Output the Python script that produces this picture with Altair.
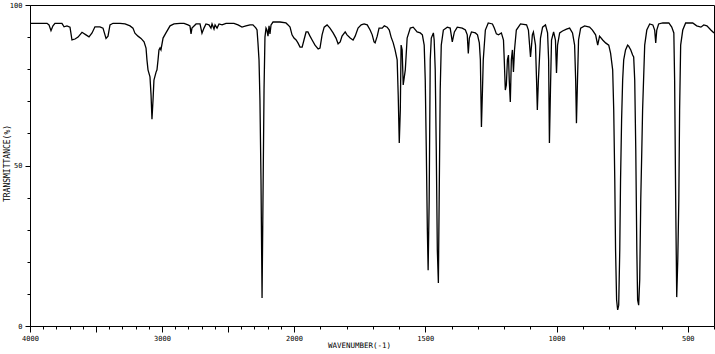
import altair as alt
import pandas as pd

wavenumber = [
    4000, 3871, 3856, 3841, 3826, 3811, 3758, 3742, 3720, 3697,
    3682, 3659, 3636, 3606, 3576, 3553, 3530, 3508, 3470, 3447,
    3424, 3409, 3394, 3371, 3318, 3280, 3242, 3220, 3205, 3182,
    3159, 3136, 3121, 3114, 3106, 3091, 3083, 3076, 3068, 3061,
    3045, 3038, 3030, 3023, 3015, 3008, 2992, 2970, 2939, 2909,
    2864, 2833, 2803, 2788, 2780, 2773, 2742, 2712, 2697, 2682,
    2667, 2644, 2629, 2621, 2606, 2598, 2583, 2568, 2545, 2515,
    2455, 2424, 2394, 2364, 2333, 2311, 2288, 2280, 2273, 2265,
    2258, 2250, 2242, 2235, 2227, 2220, 2212, 2205, 2197, 2189,
    2182, 2174, 2159, 2106, 2061, 2045, 2030, 2015, 2000,
    1992, 1985, 1977, 1969, 1962, 1954, 1947, 1939, 1931, 1920,
    1908, 1901, 1893, 1885, 1874, 1863, 1851, 1840, 1832, 1824,
    1817, 1805, 1798, 1786, 1775, 1767, 1756, 1744, 1733, 1721,
    1710, 1702, 1695, 1691, 1683, 1676, 1664, 1656, 1645, 1637,
    1630, 1622, 1615, 1607, 1603, 1599, 1595, 1592, 1588, 1584,
    1576, 1569, 1557, 1546, 1531, 1519, 1511, 1504, 1500, 1496,
    1492, 1489, 1485, 1481, 1477, 1469, 1466, 1462, 1458, 1454,
    1450, 1447, 1443, 1439, 1431, 1416, 1405, 1397, 1389, 1378,
    1359, 1347, 1340, 1336, 1332, 1324, 1309, 1301, 1294, 1290,
    1286, 1282, 1279, 1271, 1260, 1244, 1237, 1229, 1221, 1210,
    1202, 1199, 1195, 1191, 1187, 1183, 1180, 1176, 1172, 1168,
    1164, 1160, 1153, 1137, 1114, 1107, 1099, 1095, 1092, 1088,
    1080, 1076, 1073, 1069, 1061, 1053, 1042, 1034, 1030, 1027,
    1023, 1019, 1011, 1004, 1000, 996, 988, 977, 962, 950,
    939, 931, 927, 924, 920, 916, 908, 893, 874, 863,
    851, 843, 836, 824, 813, 801, 794, 786, 782, 778,
    775, 771, 767, 763, 759, 756, 752, 748, 744, 737,
    729, 725, 717, 710, 706, 702, 698, 694, 691, 687,
    683, 679, 675, 672, 664, 656, 645, 633, 626, 622,
    618, 611, 595, 572, 561, 553, 550, 546, 542, 538,
    534, 531, 527, 519, 508, 481, 466, 450, 439, 427,
    412, 400,
]

transmittance = [
    94.3, 94.3, 93.8, 92.0, 93.5, 94.3, 94.3, 93.2, 93.5, 93.1,
    89.1, 89.4, 90.0, 91.5, 90.7, 90.1, 91.3, 93.2, 93.2, 92.8,
    89.6, 90.3, 93.8, 94.3, 94.3, 94.1, 93.5, 92.8, 91.2, 90.3,
    89.6, 88.5, 86.6, 82.9, 79.8, 77.6, 72.0, 64.4, 70.4, 76.6,
    79.1, 79.8, 82.9, 86.0, 86.6, 86.0, 89.7, 91.3, 93.5, 94.1,
    94.3, 94.3, 93.8, 93.5, 91.0, 92.8, 94.1, 94.1, 91.2, 92.8,
    94.1, 93.8, 92.8, 94.1, 92.5, 93.8, 92.8, 94.1, 93.8, 94.3,
    94.3, 93.8, 93.1, 93.5, 93.8, 93.8, 92.8, 92.2, 88.2, 82.9,
    70.4, 45.5, 8.7, 39.3, 73.5, 90.0, 92.8, 92.2, 90.3, 93.5,
    91.0, 93.8, 94.7, 94.7, 94.4, 93.8, 93.1, 90.7, 89.7,
    89.1, 88.2, 86.9, 86.9, 89.1, 91.6, 91.6, 90.3, 89.1, 87.5,
    86.3, 86.6, 90.7, 93.1, 93.8, 92.8, 91.3, 89.7, 87.9, 88.5,
    90.3, 91.6, 90.7, 89.7, 89.1, 90.3, 92.8, 93.8, 94.1, 93.8,
    92.2, 90.7, 88.5, 88.2, 90.3, 92.8, 92.8, 93.5, 93.1, 92.2,
    90.0, 88.2, 86.0, 82.9, 71.9, 57.0, 67.3, 87.5, 86.0, 75.1,
    79.8, 89.7, 92.8, 93.1, 91.6, 91.3, 90.7, 87.5, 76.6, 54.8,
    29.9, 17.4, 39.3, 82.9, 89.7, 91.3, 89.1, 79.8, 54.8, 23.7,
    13.4, 39.3, 73.5, 87.5, 92.2, 93.1, 92.8, 88.5, 91.6, 93.1,
    92.8, 92.2, 90.7, 84.9, 89.7, 91.6, 91.3, 90.7, 88.2, 82.9,
    62.0, 73.5, 82.9, 92.2, 94.4, 94.1, 92.8, 91.0, 90.7, 91.3,
    89.1, 82.9, 73.5, 75.1, 82.9, 84.4, 76.6, 69.8, 82.9, 86.0,
    79.1, 86.0, 92.2, 94.1, 93.8, 92.2, 83.8, 87.5, 90.7, 91.6,
    87.5, 76.6, 67.3, 76.6, 89.7, 93.1, 93.8, 91.3, 82.9, 57.0,
    73.5, 89.1, 91.6, 89.1, 78.8, 87.5, 91.3, 91.9, 92.5, 92.8,
    91.3, 87.5, 76.6, 63.2, 76.6, 89.1, 92.8, 93.5, 93.1, 92.2,
    90.7, 87.5, 90.3, 89.1, 88.2, 87.5, 85.0, 79.8, 67.3, 45.5,
    23.7, 8.1, 5.0, 6.5, 23.7, 45.5, 64.2, 76.6, 82.9, 86.0,
    87.5, 87.2, 86.0, 84.4, 83.8, 76.6, 54.8, 23.7, 8.1, 6.5,
    14.3, 39.3, 54.8, 67.3, 87.5, 92.2, 94.1, 93.8, 92.2, 88.2,
    92.2, 94.1, 94.4, 94.4, 93.1, 91.3, 76.6, 39.3, 9.0, 20.6,
    39.3, 67.3, 87.5, 92.2, 94.4, 94.4, 93.5, 93.1, 93.8, 93.5,
    92.2, 91.3,
]

x_tick_values = list(range(4000, 399, -100))
y_tick_values = list(range(0, 101, 10))

df = pd.DataFrame({"wavenumber": wavenumber, "transmittance": transmittance})

FONT = "DejaVu Sans Mono"

chart = (
    alt.Chart(df)
    .mark_line(color="black", strokeWidth=1.3, clip=True)
    .encode(
        x=alt.X(
            "wavenumber:Q",
            sort=None,
            scale=alt.Scale(domain=[4000, 2000, 400], range=[0, 264, 684], zero=False, nice=False),
            axis=alt.Axis(
                values=x_tick_values,
                labelExpr="(datum.value % 1000 === 0 || (datum.value < 2000 && datum.value % 500 === 0)) ? '' + datum.value : ''",
                labelOverlap=False,
                labelFlush=False,
                labelFont=FONT,
                labelFontSize=7,
                labelColor="black",
                labelPadding=2,
                tickSize={"condition": {"test": "datum.value % 500 === 0", "value": 6}, "value": 3},
                tickColor="black",
                domainColor="black",
                grid=False,
                title="WAVENUMBER(-1)",
                titleFont=FONT,
                titleFontSize=7.5,
                titleFontWeight="normal",
                titleColor="black",
                titleX=329,
                titleY=19,
                titleBaseline="middle",
                titleAlign="center",
            ),
        ),
        y=alt.Y(
            "transmittance:Q",
            scale=alt.Scale(domain=[0, 100], zero=False, nice=False),
            axis=alt.Axis(
                values=y_tick_values,
                labelExpr="datum.value % 50 === 0 ? '' + datum.value : ''",
                labelOverlap=False,
                labelFlush=False,
                labelFont=FONT,
                labelFontSize=7,
                labelColor="black",
                labelPadding=3,
                tickSize={"condition": {"test": "datum.value % 50 === 0", "value": 5}, "value": 3},
                tickColor="black",
                domainColor="black",
                grid=False,
                title="TRANSMITTANCE(%)",
                titleFont=FONT,
                titleFontSize=8,
                titleFontWeight="normal",
                titleColor="black",
                titleX=-23,
                titleY=158,
                titleAngle=270,
                titleBaseline="middle",
                titleAlign="center",
            ),
        ),
    )
    .properties(
        width=684,
        height=321,
        autosize=alt.AutoSizeParams(type="none"),
        padding={"left": 30, "top": 5, "right": 1, "bottom": 28},
        background="white",
    )
    .configure_view(stroke="black", strokeWidth=1)
)

chart.save("out.html", embed_options={"renderer": "svg", "actions": False})
